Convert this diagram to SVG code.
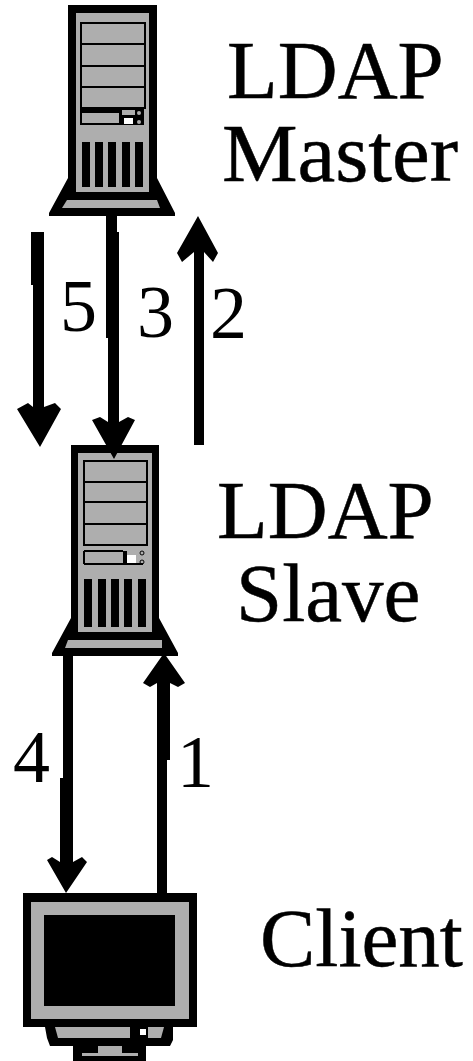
<svg xmlns="http://www.w3.org/2000/svg" width="473" height="1061" viewBox="0 0 473 1061">
<style>
text{font-family:"Liberation Serif","Times New Roman",serif;fill:#000;stroke:#000;stroke-width:.5}
.big{font-size:83px}
.num{font-size:74px;stroke-width:0}
.k{fill:#000}
.g{fill:#aeaeae}
.w{fill:#fff}
.l{stroke:#000;fill:none;stroke-width:2}
</style>
<defs><filter id="soft" x="0" y="0" width="100%" height="100%"><feGaussianBlur stdDeviation="0.45"/></filter></defs>
<rect width="473" height="1061" fill="#fff"/>
<g filter="url(#soft)">
<g id="master">
<path class="k" d="M68 5H157V178L175 213V216H49V213L68 178Z"/>
<rect class="g" x="76" y="13" width="73" height="179"/>
<path class="g" d="M67 200H157L160 208H62Z"/>
<path class="l" d="M81 23H145V108H81ZM81 44H145M81 66H145M81 87H145"/>
<rect class="k" x="80" y="108" width="64" height="17"/>
<rect class="g" x="82" y="113" width="37" height="10"/>
<rect class="g" x="122" y="110" width="13" height="5"/>
<rect class="w" x="124" y="118" width="9" height="6"/>
<circle class="g" cx="139" cy="113" r="2"/><circle class="g" cx="139" cy="122" r="2"/>
<rect class="k" x="82" y="142" width="8" height="45"/><rect class="k" x="95" y="142" width="8" height="45"/><rect class="k" x="108" y="142" width="8" height="45"/><rect class="k" x="122" y="142" width="8" height="45"/><rect class="k" x="135" y="142" width="8" height="45"/>
</g>
<g id="slave">
<path class="k" d="M71 445H159V618L178 653V656H52V653L71 618Z"/>
<rect class="g" x="78" y="453" width="74" height="179"/>
<path class="g" d="M68 640H162V648H65Z"/>
<path class="l" d="M84 461H147V545H84ZM84 482H147M84 502H147M84 524H147"/>
<path class="l" d="M84 551H123M84 564H143M84 551V564"/>
<rect class="g" x="85" y="552" width="38" height="11"/>
<rect class="k" x="123" y="551" width="4" height="14"/>
<rect class="w" x="127" y="555" width="9" height="8"/>
<circle class="l" cx="142" cy="553" r="2" style="stroke-width:1"/><circle class="l" cx="142" cy="562" r="2" style="stroke-width:1"/>
<rect class="k" x="84" y="579" width="8" height="48"/><rect class="k" x="98" y="579" width="8" height="48"/><rect class="k" x="111" y="579" width="8" height="48"/><rect class="k" x="124" y="579" width="8" height="48"/><rect class="k" x="138" y="579" width="8" height="48"/>
</g>
<g id="client">
<rect class="k" x="23" y="893" width="174" height="134"/>
<rect class="g" x="31" y="902" width="158" height="117"/>
<rect class="k" x="44" y="915" width="131" height="91"/>
<path class="k" d="M45 1027H173V1040L170 1046H146V1061H73V1046H50L47 1038Z"/>
<path class="g" d="M55 1027H130V1038H58Z"/>
<rect class="w" x="140" y="1029" width="6" height="6"/>
<path class="g" d="M148 1027H164L161 1038H148Z"/>
<path class="g" d="M98 1046H122V1053H138V1056H82V1053H98Z"/>
</g>
<g id="connectors">
<path class="k" d="M106 216H117V232H119V422L128 417L135 420L114 459L92 420L100 417L108 422V338H106Z"/>
<path class="k" d="M31 232H44V407L55 403L61 409L40 447L17 409L28 403L33 407V285H31Z"/>
<path class="k" d="M194 445V252L182 262L177 253L198 216L218 253L213 262L204 252V445Z"/>
<path class="k" d="M157 893V683L150 687L143 683L164 653L185 683L178 687L170 683V760H167V893Z"/>
<path class="k" d="M63 656H73V862L82 857L87 862L66 893L47 860L52 857L60 862V778H63Z"/>
</g>
<g id="labels">
<text class="big" x="227" y="98">LDAP</text>
<text class="big" x="222" y="181" textLength="236" lengthAdjust="spacingAndGlyphs">Master</text>
<text class="big" x="217" y="538">LDAP</text>
<text class="big" x="236" y="621">Slave</text>
<text class="big" x="260" y="966">Client</text>
<text class="num" x="60" y="331">5</text>
<text class="num" x="137" y="337">3</text>
<text class="num" x="210" y="338">2</text>
<text class="num" x="13" y="782">4</text>
<text class="num" x="177" y="787">1</text>
</g>
</g>
</svg>
